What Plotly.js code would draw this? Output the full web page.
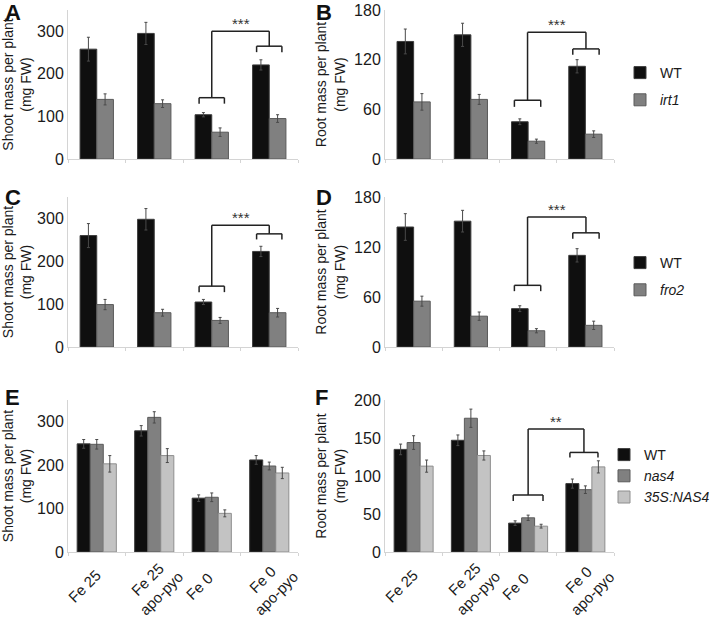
<!DOCTYPE html>
<html><head><meta charset="utf-8">
<script src="https://cdn.plot.ly/plotly-3.0.1.min.js"></script>
<style>html,body{margin:0;padding:0;background:#fff}#chart{width:714px;height:617px}</style>
</head><body><div id="chart"></div>
<script>
// ---------- data ----------
const conditions = ["Fe 25", "Fe 25<br>apo-pyo", "Fe 0", "Fe 0<br>apo-pyo"];

// Panel A – shoot mass, WT vs irt1
const shootWT_A = [258, 295, 104, 221];
const shootWT_A_err = [28, 26, 5, 12];
const shootIrt1 = [140, 130, 63, 95];
const shootIrt1_err = [13, 9, 10, 9];
// Panel B – root mass, WT vs irt1
const rootWT_B = [142, 150, 45, 112];
const rootWT_B_err = [15, 14, 3.5, 8];
const rootIrt1 = [69, 72, 21.5, 30];
const rootIrt1_err = [10, 6, 2.5, 4];
// Panel C – shoot mass, WT vs fro2
const shootWT_C = [260, 298, 105, 223];
const shootWT_C_err = [28, 25, 6, 12];
const shootFro2 = [99, 80, 62, 80];
const shootFro2_err = [12, 8, 7, 10];
// Panel D – root mass, WT vs fro2
const rootWT_D = [144, 151, 46, 110];
const rootWT_D_err = [16, 13, 3.5, 8];
const rootFro2 = [55, 37, 19.5, 26];
const rootFro2_err = [6, 5, 2.5, 5];
// Panel E – shoot mass, WT / nas4 / 35S:NAS4
const shootWT_E = [249, 279, 124, 212];
const shootWT_E_err = [10, 12, 7.5, 10];
const shootNas4 = [248, 310, 126, 198];
const shootNas4_err = [11, 13, 10, 9];
const shoot35S = [203, 222, 89, 182];
const shoot35S_err = [19, 16, 8, 13];
// Panel F – root mass, WT / nas4 / 35S:NAS4
const rootWT_F = [135, 147, 38, 90];
const rootWT_F_err = [7, 7, 3, 6];
const rootNas4 = [144, 176, 45, 82];
const rootNas4_err = [9, 12, 3.5, 5];
const root35S = [113, 127, 34, 112];
const root35S_err = [8, 6, 2.5, 8];

// significance labels
const sigAB = "***", sigCD = "***", sigF = "**";

// ---------- styling ----------
const FONT = "Liberation Sans, Arial, Helvetica, sans-serif";
const C_WT = "#0f0f0f", L_WT = "#3c3c3c";
const C_MUT = "#808080", L_MUT = "#5a5a5a";
const C_OE = "#c3c3c3", L_OE = "#8e8e8e";

function bar(name, y, err, fill, line, xa, ya, off, w, legend, show, grp) {
  return {
    type: "bar", name: name, x: conditions, y: y,
    xaxis: xa, yaxis: ya, offset: off, width: w,
    marker: {color: fill, line: {color: line, width: 1}},
    error_y: {type: "data", array: err, visible: true, color: "#4a4a4a", thickness: 1, width: 1.5},
    legend: legend, showlegend: show, legendgroup: grp, hoverinfo: "y"
  };
}
const w2 = 0.29, w3 = 0.227;
const data = [
  bar("WT", shootWT_A, shootWT_A_err, C_WT, L_WT, "x", "y", -w2, w2, "legend", true, "a1"),
  bar("<i>irt1</i>", shootIrt1, shootIrt1_err, C_MUT, L_MUT, "x", "y", 0, w2, "legend", true, "a2"),
  bar("WT", rootWT_B, rootWT_B_err, C_WT, L_WT, "x2", "y2", -w2, w2, "legend", false, "a1"),
  bar("<i>irt1</i>", rootIrt1, rootIrt1_err, C_MUT, L_MUT, "x2", "y2", 0, w2, "legend", false, "a2"),
  bar("WT", shootWT_C, shootWT_C_err, C_WT, L_WT, "x3", "y3", -w2, w2, "legend2", true, "c1"),
  bar("<i>fro2</i>", shootFro2, shootFro2_err, C_MUT, L_MUT, "x3", "y3", 0, w2, "legend2", true, "c2"),
  bar("WT", rootWT_D, rootWT_D_err, C_WT, L_WT, "x4", "y4", -w2, w2, "legend2", false, "c1"),
  bar("<i>fro2</i>", rootFro2, rootFro2_err, C_MUT, L_MUT, "x4", "y4", 0, w2, "legend2", false, "c2"),
  bar("WT", shootWT_E, shootWT_E_err, C_WT, L_WT, "x5", "y5", -1.5*w3, w3, "legend3", true, "e1"),
  bar("<i>nas4</i>", shootNas4, shootNas4_err, C_MUT, L_MUT, "x5", "y5", -0.5*w3, w3, "legend3", true, "e2"),
  bar("<i>35S:NAS4</i>", shoot35S, shoot35S_err, C_OE, L_OE, "x5", "y5", 0.5*w3, w3, "legend3", true, "e3"),
  bar("WT", rootWT_F, rootWT_F_err, C_WT, L_WT, "x6", "y6", -1.5*w3, w3, "legend3", false, "e1"),
  bar("<i>nas4</i>", rootNas4, rootNas4_err, C_MUT, L_MUT, "x6", "y6", -0.5*w3, w3, "legend3", false, "e2"),
  bar("<i>35S:NAS4</i>", root35S, root35S_err, C_OE, L_OE, "x6", "y6", 0.5*w3, w3, "legend3", false, "e3")
];

// ---------- layout ----------
const W = 714, H = 617;
const colL = [68/W, 298/W], colR = [385/W, 614/W];
const rows = [[1-159/H, 1-10/H], [1-347/H, 1-197/H], [1-552/H, 1-400/H]];

function xax(dom, anchor) {
  return {
    domain: dom, anchor: anchor, type: "category", range: [-0.5, 3.5],
    showline: true, linecolor: "#d4d4d4", linewidth: 1,
    ticks: "outside", tickson: "boundaries", ticklen: 3, tickcolor: "#d4d4d4",
    showticklabels: false,
    showgrid: false, zeroline: false, fixedrange: true, automargin: false
  };
}
function yax(dom, anchor, range, dtick, title) {
  return {
    domain: dom, anchor: anchor, range: range, dtick: dtick,
    showline: true, linecolor: "#d4d4d4", linewidth: 1, ticks: "",
    tickfont: {size: 16, family: FONT, color: "#1a1a1a"},
    showgrid: false, zeroline: false, fixedrange: true, automargin: false,
    title: {text: title, font: {size: 14, family: FONT, color: "#1a1a1a"}, standoff: 5}
  };
}
const shootT = "Shoot mass per plant<br>(mg FW)";
const rootT = "Root mass per plant<br>(mg FW)";

// significance brackets: [xref, yref, lowL, lowR, lowY, lowLeg, rightL, rightR, rightY, rightLeg, topY, text]
const sigs = [
  ["x", "y", 1.78, 2.22, 144, 130, 2.78, 3.22, 265, 251, 300, sigAB],
  ["x2", "y2", 1.76, 2.22, 71, 63, 2.78, 3.24, 133, 126, 153, sigAB],
  ["x3", "y3", 1.78, 2.22, 142, 128, 2.78, 3.22, 264, 251, 284, sigCD],
  ["x4", "y4", 1.76, 2.22, 74, 67, 2.78, 3.24, 137, 130, 156, sigCD],
  ["x6", "y6", 1.74, 2.26, 75, 67, 2.73, 3.22, 131, 124.5, 162, sigF]
];
const shapes = [], annotations = [];
function ln(xr, yr, x0, y0, x1, y1) {
  shapes.push({type: "line", xref: xr, yref: yr, x0: x0, y0: y0, x1: x1, y1: y1,
    line: {color: "#222", width: 1.5}});
}
sigs.forEach(s => {
  const [xr, yr, a0, a1, ly, ll, b0, b1, ry, rl, ty, txt] = s;
  ln(xr, yr, a0, ly, a1, ly); ln(xr, yr, a0, ly, a0, ll); ln(xr, yr, a1, ly, a1, ll);
  ln(xr, yr, b0, ry, b1, ry); ln(xr, yr, b0, ry, b0, rl); ln(xr, yr, b1, ry, b1, rl);
  const am = (a0 + a1) / 2, bm = (b0 + b1) / 2;
  ln(xr, yr, am, ly, am, ty); ln(xr, yr, am, ty, bm, ty); ln(xr, yr, bm, ty, bm, ry);
  annotations.push({xref: xr, yref: yr, x: (am + bm) / 2, y: ty, yanchor: "bottom", yshift: -3,
    text: txt, showarrow: false, font: {size: 15, family: FONT, color: "#333"}});
});
const letters = [["A", 3, 12.5], ["B", 314, 12.5], ["C", 3, 197], ["D", 314, 197], ["E", 3, 397], ["F", 313, 397]];
letters.forEach(l => annotations.push({xref: "paper", yref: "paper", x: l[1]/W, y: 1 - l[2]/H,
  xanchor: "left", yanchor: "middle", text: "<b>" + l[0] + "</b>", showarrow: false,
  font: {size: 22, family: FONT, color: "#111"}}));
// rotated category labels under panels E and F
[["x5", "y5"], ["x6", "y6"]].forEach(([xr, yr]) => {
  conditions.forEach((c, i) => annotations.push({xref: xr, yref: yr, x: conditions[i], y: 0,
    xanchor: "center", yanchor: "middle", xshift: c.includes("<br>") ? 0 : -13, yshift: -34,
    textangle: -45, text: c, showarrow: false,
    font: {size: 15, family: FONT, color: "#1a1a1a"}}));
});

function leg(x, yc, gap) {
  return {x: x/W, xanchor: "left", y: 1 - yc/H, yanchor: "middle",
    font: {size: 14, family: FONT, color: "#1a1a1a"}, bgcolor: "rgba(0,0,0,0)",
    tracegroupgap: gap, itemclick: false, itemdoubleclick: false};
}

const layout = {
  width: W, height: H, margin: {l: 0, r: 0, t: 0, b: 0, autoexpand: false},
  paper_bgcolor: "#fff", plot_bgcolor: "#fff",
  font: {family: FONT, color: "#1a1a1a"},
  barmode: "overlay",
  xaxis: xax(colL, "y"), yaxis: yax(rows[0], "x", [0, 350], 100, shootT),
  xaxis2: xax(colR, "y2"), yaxis2: yax(rows[0], "x2", [0, 180], 60, rootT),
  xaxis3: xax(colL, "y3"), yaxis3: yax(rows[1], "x3", [0, 350], 100, shootT),
  xaxis4: xax(colR, "y4"), yaxis4: yax(rows[1], "x4", [0, 180], 60, rootT),
  xaxis5: xax(colL, "y5"), yaxis5: yax(rows[2], "x5", [0, 350], 100, shootT),
  xaxis6: xax(colR, "y6"), yaxis6: yax(rows[2], "x6", [0, 200], 50, rootT),
  legend: leg(620, 86.5, 6), legend2: leg(620, 276.5, 6), legend3: leg(604, 476, 0),
  shapes: shapes, annotations: annotations, showlegend: true
};
Plotly.newPlot("chart", data, layout, {displayModeBar: false, staticPlot: true});
</script></body></html>
